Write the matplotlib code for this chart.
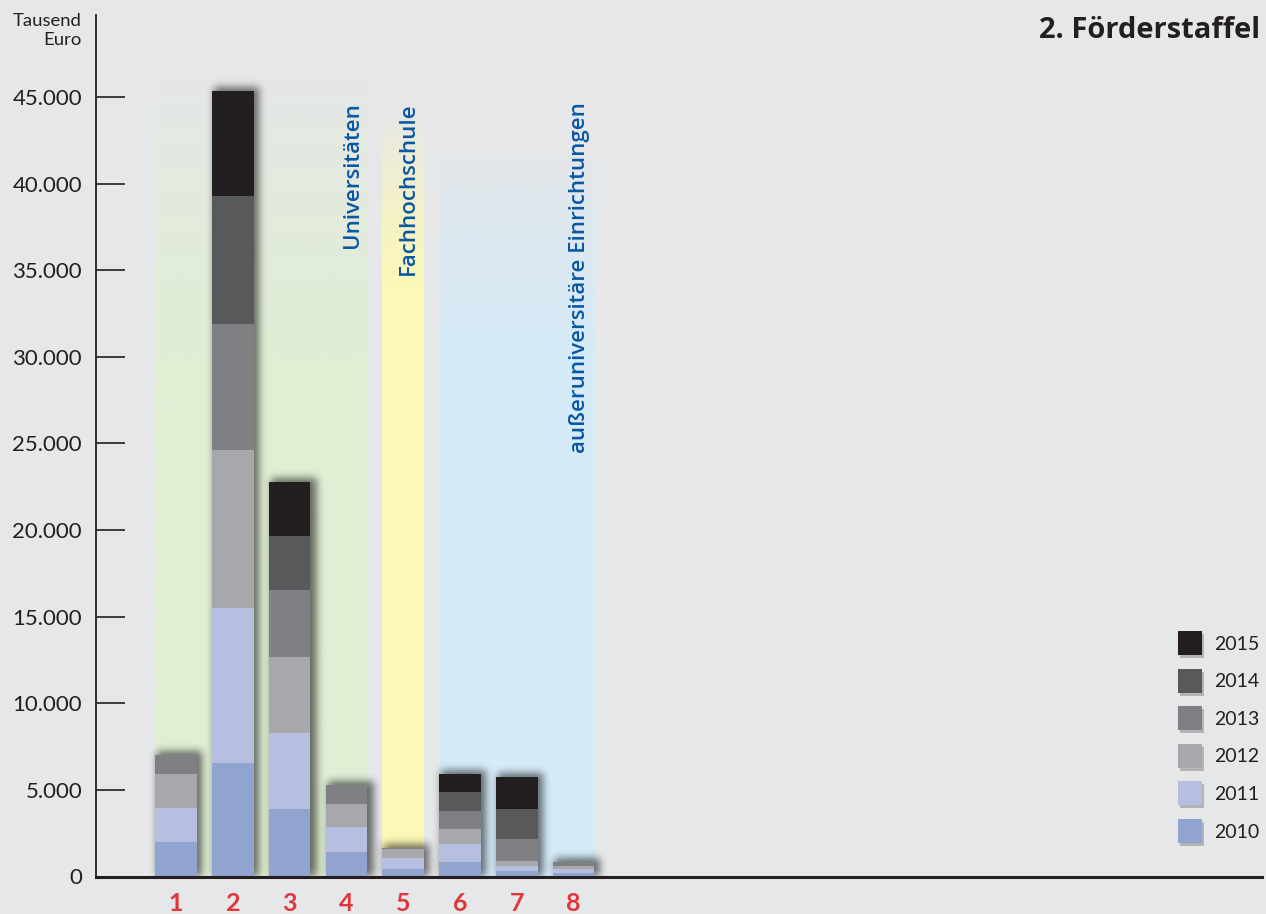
import numpy as np
import matplotlib
matplotlib.use("Agg")
import matplotlib.pyplot as plt
from matplotlib.patches import Rectangle
from matplotlib.ticker import FuncFormatter

# ---------------- data (Tausend Euro) ----------------
categories = ["1", "2", "3", "4", "5", "6", "7", "8"]
years = ["2010", "2011", "2012", "2013", "2014", "2015"]
v2010 = [2020, 6580, 3870, 1440, 460, 810, 290, 230]
v2011 = [1960, 8920, 4440, 1390, 580, 1040, 340, 230]
v2012 = [1960, 9100, 4380, 1380, 520, 920, 240, 170]
v2013 = [1100, 7300, 3870, 1100, 110, 1040, 1320, 180]
v2014 = [0, 7400, 3120, 0, 0, 1040, 1730, 0]
v2015 = [0, 6050, 3110, 0, 0, 1040, 1850, 0]
series = [v2010, v2011, v2012, v2013, v2014, v2015]
year_colors = ["#91a4cf", "#b6bfe0", "#a7a8ab", "#7f8083", "#58595b", "#231f20"]

groups = ["Universitäten", "Fachhochschule", "außeruniversitäre Einrichtungen"]
group_spans = [(1, 4), (5, 5), (6, 8)]
group_colors = ["#e0eed4", "#fdf8b6", "#d5ebf8"]
group_tops = [46500, 44000, 42000]
group_fade = [30000, 34000, 30000]

yticks = [0, 5000, 10000, 15000, 20000, 25000, 30000, 35000, 40000, 45000]

BG = "#e6e7e9"
W, H = 1266, 914
fig = plt.figure(figsize=(W / 100, H / 100), dpi=100, facecolor=BG)
plt.rcParams['font.family'] = ['Lato', 'DejaVu Sans']

ax_l, ax_r = 96 / W, 1262 / W
ax_b, ax_t = (H - 876.5) / H, (H - 15) / H
ax = fig.add_axes([ax_l, ax_b, ax_r - ax_l, ax_t - ax_b])
ax.set_facecolor(BG)

x = np.arange(1, len(categories) + 1)
bar_w = 0.73
px_per_unit = 56.8
xmin = 1 - 80 / px_per_unit
xmax = xmin + (1262 - 96) / px_per_unit
ax.set_xlim(xmin, xmax)
ppy = (876.5 - 97) / 45000
ymax = (876.5 - 15) / ppy
ax.set_ylim(0, ymax)

# background group bands with vertical fade
for (a, b), col, top, fade in zip(group_spans, group_colors, group_tops, group_fade):
    rgb = np.array(matplotlib.colors.to_rgb(col))
    n = 256
    yy = np.linspace(top, 0, n)
    alpha = np.clip((top - yy) / (top - fade), 0, 1) ** 0.8
    img = np.zeros((n, 1, 4))
    img[:, 0, :3] = rgb
    img[:, 0, 3] = alpha
    ax.imshow(img, extent=[a - bar_w / 2, b + bar_w / 2, 0, top],
              aspect='auto', zorder=0.5, interpolation='bilinear')


def gauss_blur(arr, sigma):
    r = int(3 * sigma)
    k = np.exp(-0.5 * (np.arange(-r, r + 1) / sigma) ** 2)
    k /= k.sum()
    out = np.apply_along_axis(lambda m: np.convolve(m, k, mode='same'), 0, arr)
    out = np.apply_along_axis(lambda m: np.convolve(m, k, mode='same'), 1, out)
    return out


# stacked bars with soft shadow
totals = np.sum(series, axis=0)
for xi, tot in zip(x, totals):
    wpx = bar_w * px_per_unit
    hpx = tot * ppy
    pad = 18
    nx = int(wpx + 2 * pad)
    ny = int(hpx + pad)
    X = np.arange(nx) - pad
    Y = np.arange(ny)
    mask = (((X >= 2) & (X <= wpx + 5))[None, :] & (Y <= hpx + 3)[:, None]).astype(float)
    a = gauss_blur(mask, 4.0) * 0.55
    img = np.zeros((ny, nx, 4))
    img[..., 3] = a
    left = xi - bar_w / 2 - pad / px_per_unit
    ax.imshow(img, origin='lower', extent=[left, left + nx / px_per_unit, 0, ny / ppy],
              aspect='auto', zorder=1, interpolation='bilinear')

ax.set_xlim(xmin, xmax)
ax.set_ylim(0, ymax)

bottom = np.zeros(len(categories))
for vals, col, yr in zip(series, year_colors, years):
    ax.bar(x, vals, bar_w, bottom=bottom, color=col, label=yr, zorder=2, linewidth=0)
    bottom += np.array(vals)

# group labels
label_x = [4.10, 5.09, 8.11]
for g, lx in zip(groups, label_x):
    ax.text(lx, 44700, g, rotation=90, ha='center', va='top', color="#0a57a4",
            fontsize=16, fontweight='semibold', family=['Open Sans', 'DejaVu Sans'],
            zorder=3)

# axes styling
for s in ["top", "right"]:
    ax.spines[s].set_visible(False)
ax.spines["left"].set_linewidth(1.3)
ax.spines["left"].set_color("#231f20")
ax.spines["bottom"].set_linewidth(2.2)
ax.spines["bottom"].set_color("#231f20")
ax.spines["bottom"].set_zorder(4)

ax.set_yticks(yticks)
ax.yaxis.set_major_formatter(FuncFormatter(lambda v, p: f"{int(v):,}".replace(",", ".")))
ax.tick_params(axis='y', direction='in', length=21, width=1.2, color="#231f20",
               labelsize=16, labelcolor="#231f20", pad=10)
ax.set_xticks(x)
ax.set_xticklabels(categories)
ax.tick_params(axis='x', length=0, pad=11, labelsize=18, labelcolor="#e0363e")
for t in ax.get_xticklabels():
    t.set_fontweight('bold')

# unit label and title
fig.text(82 / W, 1 - 13 / H, "Tausend\nEuro", ha='right', va='top', fontsize=13.3,
         color="#231f20", linespacing=1.2)
fig.text(1260 / W, 1 - 31 / H, "2. Förderstaffel", ha='right', va='center',
         fontsize=21, fontweight='bold', family=['Open Sans', 'DejaVu Sans'],
         color="#231f20")

# legend (drawn manually)
leg_y0 = 643
leg_dy = 37.6
for i, (yr, col) in enumerate(zip(years[::-1], year_colors[::-1])):
    yc = leg_y0 + i * leg_dy
    fig.patches.append(Rectangle(((1180) / W, 1 - (yc + 13 + 2) / H), 24 / W, 24 / H,
                                 transform=fig.transFigure, facecolor="black",
                                 alpha=0.22, lw=0, zorder=1))
    fig.patches.append(Rectangle((1178 / W, 1 - (yc + 12) / H), 24 / W, 24 / H,
                                 transform=fig.transFigure, facecolor=col, lw=0, zorder=2))
    fig.text(1214 / W, 1 - (yc + 1) / H, yr, ha='left', va='center', fontsize=14,
             color="#231f20")

fig.savefig("out.png", dpi=100, facecolor=BG)
